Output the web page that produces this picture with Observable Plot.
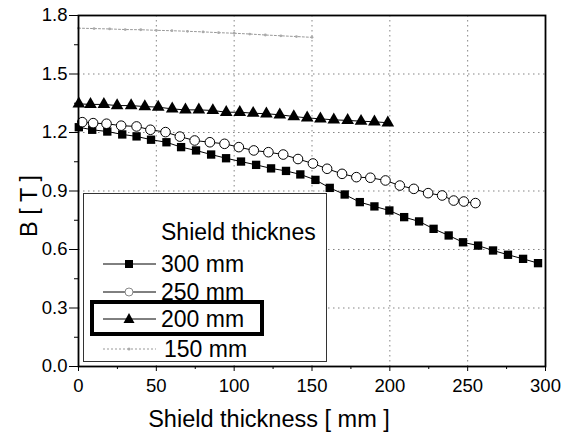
<!DOCTYPE html>
<html>
<head>
<meta charset="utf-8">
<script src="https://cdn.jsdelivr.net/npm/d3@7"></script>
<script src="https://cdn.jsdelivr.net/npm/@observablehq/plot@0.6"></script>
<style>
  html, body { margin: 0; padding: 0; background: white; }
  #wrap { position: relative; width: 561px; height: 437px; font-family: "Liberation Sans", Arial, sans-serif; }
  #legend { position: absolute; left: 83px; top: 193px; width: 242px; height: 167px; border: 1.5px solid #333; background: white; }
  .lrow { position: absolute; left: 0; height: 28px; display: flex; align-items: center; font-size: 23px; color: black; white-space: nowrap; }
  .lrow svg { display: block; }
  #hl { position: absolute; left: 90px; top: 300px; width: 166px; height: 28px; border: 4px solid black; }
</style>
</head>
<body>
<div id="wrap"></div>
<script>
// ---- data ----
const x300 = [0.2, 8.8, 18.5, 28.1, 37.3, 46.6, 56.5, 65.9, 75.5, 85.2, 94.8, 104.4, 114.1, 123.7, 133.3, 142.5, 152.2,
              161.4, 171, 180.7, 190.1, 199.7, 209.2, 218.8, 228.1, 237.8, 247, 256.7, 266.3, 275.9, 285.6, 295.2];
const y300 = [1.227, 1.214, 1.205, 1.19, 1.18, 1.163, 1.15, 1.125, 1.108, 1.087, 1.068, 1.051, 1.034, 1.016, 1.003, 0.985, 0.957,
              0.916, 0.882, 0.843, 0.821, 0.80, 0.766, 0.744, 0.706, 0.672, 0.637, 0.62, 0.595, 0.573, 0.552, 0.53];

const x250 = [2.4, 9.4, 18, 27.4, 37.3, 46.2, 55.9, 65.1, 74.6, 84.4, 93.8, 103, 112.6, 122, 131.5, 141, 150.6,
              159.7, 169.3, 178.5, 187.5, 197.2, 206.4, 215.4, 224.6, 233.6, 241, 247.5, 255];
const y250 = [1.253, 1.248, 1.245, 1.235, 1.231, 1.214, 1.202, 1.179, 1.159, 1.150, 1.142, 1.125, 1.108, 1.099, 1.087, 1.064, 1.041,
              1.014, 0.988, 0.971, 0.968, 0.954, 0.928, 0.911, 0.889, 0.877, 0.851, 0.846, 0.838];

const x200 = [0.2, 7.7, 16.3, 24.8, 33.8, 42.6, 51.2, 60.2, 68.7, 77.3, 86.3, 94.9, 103.6, 112.2, 120.7, 129.3, 138.3,
              146.9, 155.4, 164, 172.9, 181.5, 190.1, 198.7];
const y200 = [1.347, 1.344, 1.344, 1.338, 1.338, 1.333, 1.330, 1.321, 1.316, 1.316, 1.313, 1.304, 1.304, 1.299, 1.296, 1.291, 1.282,
              1.275, 1.27, 1.265, 1.262, 1.258, 1.255, 1.25];

const x150 = [0, 10, 20, 30, 40, 50, 60, 70, 80, 90, 100, 110, 120, 130, 140, 150];
const y150 = [1.735, 1.733, 1.731, 1.728, 1.727, 1.724, 1.722, 1.719, 1.716, 1.712, 1.709, 1.705, 1.70, 1.696, 1.692, 1.688];

const xTicks = [0, 50, 100, 150, 200, 250, 300];
const yTicks = [0, 0.3, 0.6, 0.9, 1.2, 1.5, 1.8];
const xMinor = [25, 75, 125, 175, 225, 275];
const yMinor = [0.15, 0.45, 0.75, 1.05, 1.35, 1.65];

const seriesNames = ["300 mm", "250 mm", "200 mm", "150 mm"];
const legendTitle = "Shield thicknes";
const xLabel = "Shield thickness [ mm ]";
const yLabel = "B [ T ]";

// ---- build tables ----
const zip = (xs, ys) => xs.map((x, i) => ({x, y: ys[i]}));
const d300 = zip(x300, y300), d250 = zip(x250, y250), d200 = zip(x200, y200), d150 = zip(x150, y150);

const plot = Plot.plot({
  width: 561, height: 437,
  marginLeft: 78, marginRight: 16, marginTop: 15, marginBottom: 71,
  style: {fontFamily: "'Liberation Sans', Arial, sans-serif", fontSize: "18.5px", color: "black", background: "white"},
  x: {domain: [0, 300]},
  y: {domain: [0, 1.8]},
  marks: [
    Plot.gridX(xTicks.slice(1, -1), {stroke: "#666", strokeOpacity: 0.8, strokeDasharray: "1.5,3.5"}),
    Plot.gridY(yTicks.slice(1, -1), {stroke: "#666", strokeOpacity: 0.8, strokeDasharray: "1.5,3.5"}),
    Plot.line(d150, {x: "x", y: "y", stroke: "#999", strokeWidth: 1, strokeDasharray: "2,2"}),
    Plot.dot(d150, {x: "x", y: "y", r: 1.4, fill: "#aaa"}),
    Plot.line(d300, {x: "x", y: "y", stroke: "black", strokeWidth: 1}),
    Plot.dot(d300, {x: "x", y: "y", symbol: "square", r: 4.7, fill: "black"}),
    Plot.line(d250, {x: "x", y: "y", stroke: "black", strokeWidth: 1}),
    Plot.dot(d250, {x: "x", y: "y", symbol: "circle", r: 4.8, fill: "white", stroke: "black", strokeWidth: 1}),
    Plot.line(d200, {x: "x", y: "y", stroke: "black", strokeWidth: 1}),
    Plot.dot(d200, {x: "x", y: "y", symbol: "triangle", r: 4.7, fill: "black"}),
    Plot.axisX({ticks: xTicks, tickSize: 5, tickPadding: 7, label: null, tickFormat: d => String(d)}),
    Plot.axisY({ticks: yTicks, tickSize: 9, tickPadding: 2, label: null, tickFormat: d3.format(".1f")}),
    Plot.axisX({ticks: xMinor, tickSize: 3, label: null, tickFormat: null, text: null}),
    Plot.axisY({ticks: yMinor, tickSize: 4, label: null, tickFormat: null, text: null}),
    Plot.frame({stroke: "black", strokeWidth: 1.8})
  ]
});

const wrap = document.getElementById("wrap");
wrap.appendChild(plot);

const svg = d3.select(plot);
svg.append("text")
  .attr("x", 269).attr("y", 427)
  .attr("text-anchor", "middle")
  .style("font-size", "23.5px").style("font-family", "'Liberation Sans', Arial, sans-serif")
  .attr("fill", "black")
  .text(xLabel);
svg.append("text")
  .attr("transform", "translate(37,206) rotate(-90)")
  .attr("text-anchor", "middle")
  .style("font-size", "23.5px").style("font-family", "'Liberation Sans', Arial, sans-serif")
  .attr("fill", "black")
  .text(yLabel);

// ---- legend (HTML overlay) ----
const legend = document.createElement("div");
legend.id = "legend";
wrap.appendChild(legend);

function addRow(top, label, markerFn, leftText) {
  const row = document.createElement("div");
  row.className = "lrow";
  row.style.top = (top - 193 - 14) + "px";
  const s = d3.create("svg").attr("width", 77).attr("height", 28);
  if (markerFn) markerFn(s);
  row.appendChild(s.node());
  const t = document.createElement("span");
  t.textContent = label;
  t.style.marginLeft = (leftText - 83 - 77) + "px";
  row.appendChild(t);
  legend.appendChild(row);
}
// title
addRow(231, legendTitle, null, 160);
// 300 mm
addRow(263, seriesNames[0], s => {
  s.append("line").attr("x1", 19).attr("x2", 72).attr("y1", 14).attr("y2", 14).attr("stroke", "black");
  s.append("rect").attr("x", 41).attr("y", 10).attr("width", 8).attr("height", 8).attr("fill", "black");
}, 160);
// 250 mm
addRow(291, seriesNames[1], s => {
  s.append("line").attr("x1", 19).attr("x2", 72).attr("y1", 14).attr("y2", 14).attr("stroke", "black");
  s.append("circle").attr("cx", 45).attr("cy", 14).attr("r", 4).attr("fill", "white").attr("stroke", "#888");
}, 160);
// 200 mm
addRow(318, seriesNames[2], s => {
  s.append("line").attr("x1", 19).attr("x2", 72).attr("y1", 14).attr("y2", 14).attr("stroke", "black");
  s.append("path").attr("d", "M45,8 L50.5,18 L39.5,18 Z").attr("fill", "black");
}, 160);
// 150 mm
addRow(348, seriesNames[3], s => {
  s.append("line").attr("x1", 19).attr("x2", 72).attr("y1", 14).attr("y2", 14).attr("stroke", "#999").attr("stroke-dasharray", "2,2");
  s.append("circle").attr("cx", 45).attr("cy", 14).attr("r", 1.5).attr("fill", "#aaa");
}, 163);

const hl = document.createElement("div");
hl.id = "hl";
wrap.appendChild(hl);
</script>
</body>
</html>
